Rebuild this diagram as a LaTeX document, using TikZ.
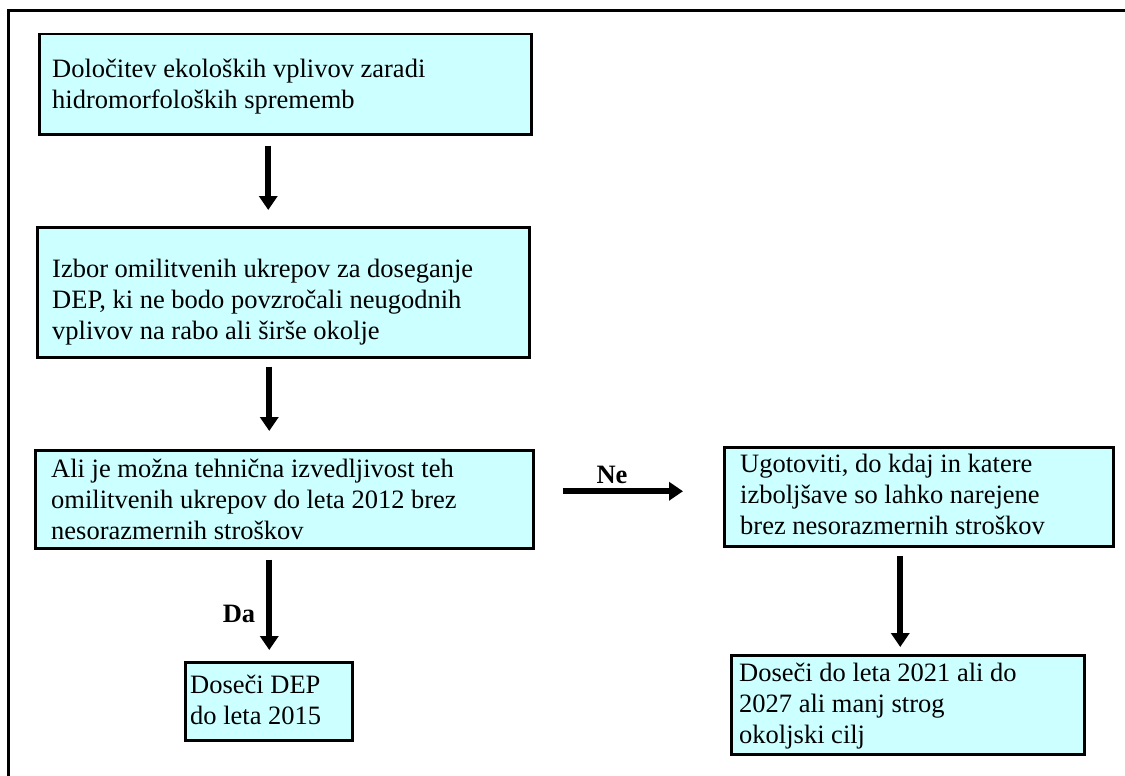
\documentclass[tikz,border=0pt]{standalone}
\usepackage{fontspec}
\setmainfont{Liberation Serif}
\usetikzlibrary{arrows.meta,calc}
\definecolor{boxfill}{HTML}{CCFFFF}
\begin{document}
\begin{tikzpicture}[x=1pt,y=-1pt,
  stepbox/.style={draw=black, line width=2.5pt, fill=boxfill, rectangle,
    inner sep=0pt, anchor=north west},
  boxtext/.style={anchor=north west, inner sep=0pt, align=left,
    font=\fontsize{26.5}{31}\selectfont},
  flow/.style={line width=6pt, -{Triangle[length=14pt,width=18pt]}},
  answer/.style={font=\fontsize{26.5}{31}\selectfont\bfseries, inner sep=0pt, anchor=base}
]
\useasboundingbox (0,0) rectangle (1125,776);
\fill[white] (0,0) rectangle (1125,776);

% outer frame
\draw[line width=3pt] (8,776) -- (8,11) -- (1125,11);

% boxes
\node[stepbox, minimum width=492pt, minimum height=100pt] (b1) at (38,33) {};
\node[stepbox, minimum width=492pt, minimum height=130pt] (b2) at (36,226) {};
\node[stepbox, minimum width=498pt, minimum height=98pt] (b3) at (34,449) {};
\node[stepbox, minimum width=389pt, minimum height=99pt] (b4) at (723,446) {};
\node[stepbox, minimum width=353pt, minimum height=99pt] (b5) at (730,654) {};
\node[stepbox, minimum width=167pt, minimum height=78pt] (b6) at (184,661) {};

% box texts (first baseline = anchor + strut height)
\node[boxtext] (t1) at (52,{77-21.7}) {\strut Določitev ekoloških vplivov zaradi\\hidromorfoloških sprememb};
\node[boxtext] (t2) at (52,{277-21.7}) {\strut Izbor omilitvenih ukrepov za doseganje\\DEP, ki ne bodo povzročali neugodnih\\vplivov na rabo ali širše okolje};
\node[boxtext] (t3) at (51,{477-21.7}) {\strut Ali je možna tehnična izvedljivost teh\\omilitvenih ukrepov do leta 2012 brez\\nesorazmernih stroškov};
\node[boxtext] (t4) at (740,{472-21.7}) {\strut Ugotoviti, do kdaj in katere\\izboljšave so lahko narejene\\brez nesorazmernih stroškov};
\node[boxtext] (t5) at (739,{681-21.7}) {\strut Doseči do leta 2021 ali do\\2027 ali manj strog\\okoljski cilj};
\node[boxtext] (t6) at (190,{693-21.7}) {\strut Doseči DEP\\do leta 2015};

% connectors
\draw[flow, shorten <=10pt, shorten >=16pt] ([xshift=-17pt]b1.south) -- ([xshift=-15pt]b2.north);
\draw[flow, shorten <=8pt, shorten >=18pt] ([xshift=-14pt]b2.south) -- ([xshift=-15pt]b3.north);
\draw[flow, shorten <=10pt, shorten >=11pt] ([xshift=-15pt]b3.south) -- ([xshift=0.5pt]b6.north);
\draw[flow, shorten <=28pt, shorten >=40pt] ([yshift=8pt]b3.east) -- ([yshift=5.5pt]b4.west);
\draw[flow, shorten <=8pt, shorten >=7pt] ([xshift=-18.5pt]b4.south) -- ([xshift=-7.5pt]b5.north);

% answer labels
\node[answer] (ne) at (612,483) {Ne};
\node[answer] (da) at (239,622) {Da};
\end{tikzpicture}
\end{document}
